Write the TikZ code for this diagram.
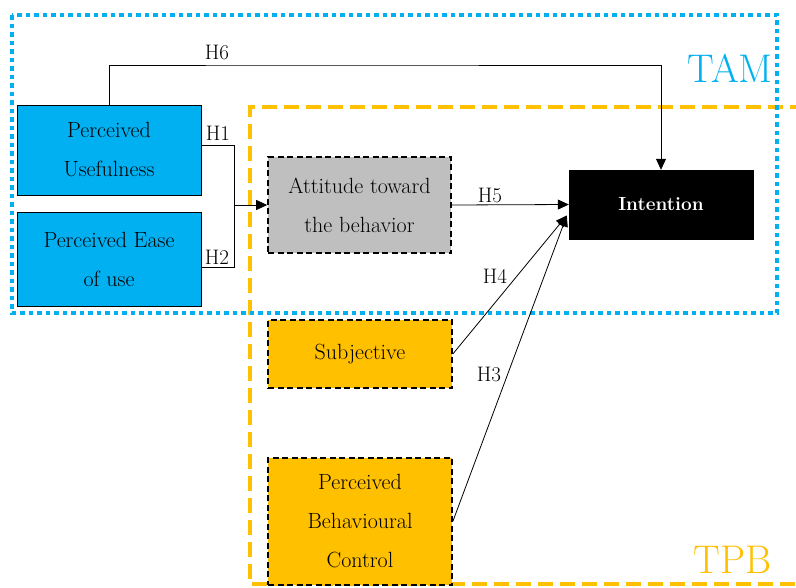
\documentclass[tikz,border=0pt]{standalone}
\usetikzlibrary{arrows.meta,calc}
\definecolor{tamblue}{HTML}{00B0F0}
\definecolor{tpborange}{HTML}{FFC000}
\definecolor{attgray}{HTML}{BFBFBF}
\begin{document}
\begin{tikzpicture}[x=1pt,y=-1pt,
  txt/.style={font=\fontsize{22}{39}\selectfont,align=center,inner sep=0pt},
  tambox/.style={draw=black,line width=1pt,fill=tamblue,txt},
  dbox/.style={draw=black,line width=1.6pt,dash pattern=on 6pt off 3.5pt,txt},
  conn/.style={draw=black,line width=0.8pt},
  arr/.style={conn,-{Triangle[length=11pt,width=10pt]}},
  hlab/.style={font=\fontsize{21}{22}\selectfont,inner sep=0pt},
  tamline/.style={draw=tamblue,line width=4.5pt,dash pattern=on 4.5pt off 4pt},
  tpbline/.style={draw=tpborange,line width=4.5pt,dash pattern=on 15pt off 7pt}]
\useasboundingbox (0,0) rectangle (796,587);
\clip (0,0) rectangle (796,587);
% frames
\draw[tpbline] (805,107) -- (250,107) -- (250,584) -- (805,584);
\draw[tamline] (12,15) rectangle (777,313);
\node[font=\fontsize{40}{42}\selectfont,text=tamblue,anchor=east,inner sep=0pt] (tamlab) at (773,68) {TAM};
\node[font=\fontsize{40}{42}\selectfont,text=tpborange,anchor=east,inner sep=0pt] (tpblab) at (772,560) {TPB};
% boxes
\node[tambox,minimum width=184pt,minimum height=90pt] (PU) at (109,150) {Perceived\\Usefulness};
\node[tambox,minimum width=184pt,minimum height=94pt] (PEOU) at (109,259) {Perceived Ease\\of use};
\node[dbox,fill=attgray,minimum width=183pt,minimum height=96pt] (Att) at (359.5,205) {Attitude toward\\the behavior};
\node[draw=black,fill=black,text=white,font=\bfseries\fontsize{19}{21}\selectfont,inner sep=0pt,minimum width=184pt,minimum height=69pt] (Int) at (661,204.5) {Intention};
\node[dbox,fill=tpborange,minimum width=184pt,minimum height=68pt] (Subj) at (360,354) {Subjective};
\node[dbox,fill=tpborange,minimum width=184pt,minimum height=127pt] (PBC) at (360,521.5) {Perceived\\Behavioural\\Control};
% connectors
\coordinate (j) at (234,205);
\coordinate (h6) at (300,65);
\coordinate (conv) at ($(Int.west)+(-2,11)$);
\draw[conn] ([yshift=5pt]PU.east) -| (j);
\draw[conn] ([yshift=-8pt]PEOU.east) -| (j);
\draw[arr] (j) -- (Att.west);
\draw[arr] (PU.north) |- (h6) -| (Int.north);
\draw[arr] (Att.east) -- (Int.west);
\draw[arr] (Subj.east) -- (conv);
\draw[arr] (PBC.east) -- (conv);
% labels
\node[hlab] (l6) at (217,52) {H6};
\node[hlab] (l1) at (218,133) {H1};
\node[hlab] (l2) at (217,257) {H2};
\node[hlab] (l5) at (490,195) {H5};
\node[hlab] (l4) at (495,276) {H4};
\node[hlab] (l3) at (489,374) {H3};
\end{tikzpicture}
\end{document}
